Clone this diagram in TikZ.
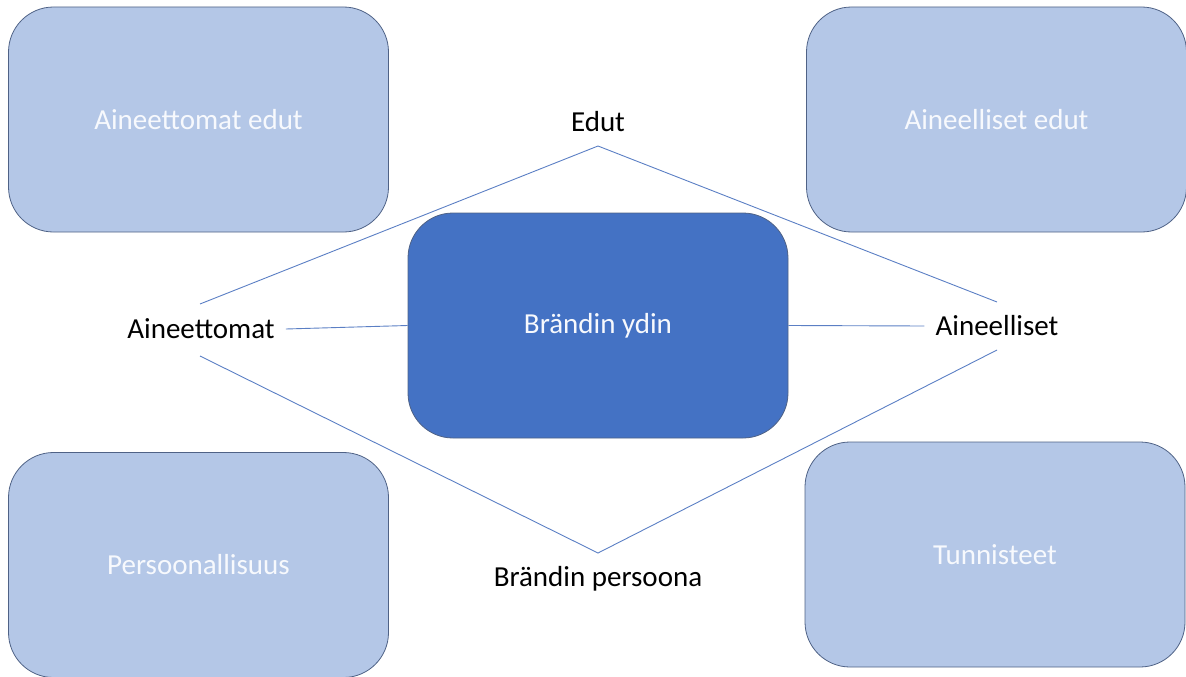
\documentclass[tikz,border=0pt]{standalone}
\usepackage{fontspec}
\setmainfont{Carlito}
\definecolor{boxfill}{HTML}{B4C7E7}
\definecolor{corefill}{HTML}{4472C4}
\definecolor{boxline}{HTML}{4F6286}
\definecolor{linkline}{HTML}{5B7FC4}
\definecolor{boxtext}{HTML}{F7F9FD}
\tikzset{
  sidebox/.style={draw=boxline,fill=boxfill,rounded corners=45pt,line width=0.8pt,
    minimum width=380pt,minimum height=225pt,text=boxtext},
  corebox/.style={draw=boxline,fill=corefill,rounded corners=45pt,line width=0.8pt,
    minimum width=380pt,minimum height=225pt,text=boxtext},
  axislabel/.style={inner sep=11pt,text=black},
  link/.style={draw=linkline,line width=0.9pt}
}
\begin{document}
\begin{tikzpicture}[x=1pt,y=-1pt,font=\fontsize{29}{35}\selectfont]
\useasboundingbox (0,0) rectangle (1186,677);

\node[sidebox] (aetu) at (198.5,119.5) {Aineettomat edut};
\node[sidebox] (metu) at (996.5,119.5) {Aineelliset edut};
\node[sidebox] (pers) at (198.5,565) {Persoonallisuus};
\node[sidebox] (tunn) at (995,554.5) {Tunnisteet};
\node[corebox] (ydin) at (598,325.5) {Brändin ydin};

\node[axislabel] (edut) at (598,122) {Edut};
\node[axislabel] (aine) at (201,329) {Aineettomat};
\node[axislabel] (mate) at (997,326) {Aineelliset};
\node[axislabel] (bpers) at (598,579) {Brändin persoona};

\coordinate (top) at (598,146);
\coordinate (bot) at (598,553);
\coordinate (lup) at (200,304);
\coordinate (llo) at (200,356);
\coordinate (rup) at (997,302);
\coordinate (rlo) at (997,350);

\draw[link] (lup) -- (top) -- (rup);
\draw[link] (llo) -- (bot) -- (rlo);
\draw[link] (aine.east) -- (ydin.west);
\draw[link] (ydin.east) -- (mate.west);
\end{tikzpicture}
\end{document}
